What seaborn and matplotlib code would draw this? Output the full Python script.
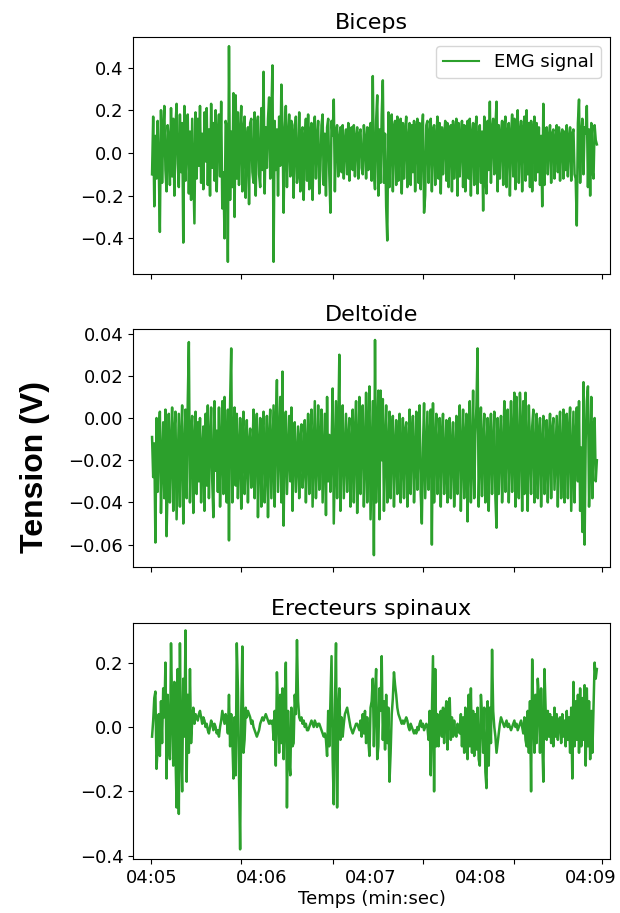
import numpy as np
import pandas as pd
import matplotlib
matplotlib.use("Agg")
import matplotlib.pyplot as plt
from matplotlib.ticker import MultipleLocator, FixedLocator
import seaborn as sns

# ---------------- data ----------------
T_START = 245.0   # 04:05 in seconds
T_END = 249.06    # end of recording

# Biceps, in 0.01 V
biceps_cV = [
    -10, 17, -25, 8, -12, 15, -6, -37, 20, -14, 9, 22, -8, -18, 13, 6, -15, 21, -11, 16,
    -20, 12, 23, -5, -16, 18, -9, 14, -42, 22, -13, 7, 18, -19, 10, -22, 16, -8, -33, 19,
    -12, 16, -6, 22, -14, 9, -17, 19, -4, 21, -15, 11, -20, 23, -7, 14, -13, 20, -18, 8,
    18, -11, 24, -26, -9, -40, 15, 12, -51, 50, -22, 10, -16, 28, -30, 27, -12, 19, -15, 8,
    22, -18, 11, 17, -21, 6, 12, -24, 14, 16, -9, -14, 19, -20, 13, 17, -10, -16, 21, -8,
    38, -19, 12, -7, 16, 26, -12, 18, 41, -51, 15, -8, 11, -20, 17, -6, 32, 12, -28, 9,
    22, -16, 7, 18, -11, 15, 13, -21, 8, 17, -14, -9, 19, -18, 10, 12, -22, 6, 16, -13,
    18, -17, 9, 14, -22, 11, 17, -12, 7, 15, -19, -8, 13, 18, -15, 9, -20, 12, 16, -10,
    -28, 15, 8, 25, -18, 10, 13, -11, 6, 12, -9, 13, -12, 5, 11, -10, 14, -13, 8, 12,
    -8, 13, -11, 7, 12, -12, 9, 11, -7, -10, 13, 6, -12, 12, -8, 10, 14, -13, 36, -9,
    -17, 15, 27, -20, 11, -14, 18, 34, -14, 9, -25, -41, 19, -16, 8, 18, -18, 12, 15, -15,
    17, -13, 7, 16, -19, 14, -12, 10, 17, -16, 6, 14, -15, 13, -9, 15, -18, 11, 16, -14,
    14, -17, 9, 18, -28, -20, 13, 15, -14, 8, 16, -18, 11, 13, -15, 7, 17, -12, 14, -19,
    12, -10, 8, 15, -13, 14, -16, 9, 13, -18, 15, -12, 10, 16, -20, 14, -11, 7, 15, -16,
    13, -18, 10, 15, -12, 16, -20, 9, 14, -15, 11, 17, -19, 8, 13, -14, 10, -27, 17, -12,
    -19, 15, -8, 24, -14, 11, 16, -10, 12, 24, -18, 13, -12, 9, 15, -15, 12, 17, -16, 10,
    14, -20, 8, 18, -11, 16, -17, 12, 20, -14, 9, 15, -18, 11, 17, -13, 20, -10, 14, -16,
    15, -18, 9, 17, -13, 14, -9, 12, -15, 8, -25, 23, -15, 10, 12, -10, 7, 13, -14, 9,
    11, -12, 6, 13, -9, 12, -13, 8, 11, -12, 10, -8, 13, -11, 7, 12, -13, 9, 11, -10,
    -12, -34, 14, 25, -14, 8, 16, -10, 12, 9, 22, -16, 11, -20, 14, -8, -12, 13, 6, 4,
]

# Deltoide, in 0.001 V
deltoide_mV = [
    -9, -28, -12, -59, 0, -35, -8, 3, -45, -20, -2, -38, 4, -56, -30, 2, -40, -14, 5, -44,
    -6, 3, -48, -22, 2, -42, -10, 6, -50, -18, 4, -38, 7, 36, -40, -8, 1, -45, -12, 3,
    -36, -2, -30, 0, -40, -15, -4, -44, 2, -32, 6, -38, -12, 5, -30, -47, 8, -25, -6, -35,
    5, -42, -14, 8, -36, 10, -22, -40, 4, -58, 7, 33, -40, -10, 5, -32, 2, -38, -16, 0,
    -43, -8, 3, -36, -20, -1, -40, -12, -5, -33, -18, 4, -38, -9, 2, -47, -14, 0, -42, -6,
    3, -40, -22, 1, -47, -10, 4, -38, -16, 6, -42, -4, 18, -35, -12, 10, -40, 22, -51, -8,
    3, -36, -18, 1, -30, 5, -44, -12, -2, -35, -20, -4, -38, -10, -3, -33, -22, -1, -40, -14,
    2, -36, -8, 4, -42, -16, 8, -38, -20, 6, -34, -12, 4, -40, -18, 2, -46, 10, -30, -8,
    -35, -14, 14, -50, -20, 8, -38, -6, 30, -44, -12, 6, -38, -18, 2, -35, -10, 0, -42, -16,
    4, -40, -8, 8, -45, -14, 10, -36, -4, 6, -42, -18, 12, -40, -6, 15, -48, -20, 8, -65,
    37, -40, -10, 13, -48, 13, -20, 9, -44, -12, 6, -40, -16, 3, -38, -8, 1, -42, -14, -1,
    -36, -10, 2, -40, -18, 0, -38, -6, -2, -42, -15, 4, -36, -8, 1, -40, -20, 3, -34, -12,
    6, -36, -50, -14, 7, -38, -18, 3, -34, -10, 4, -60, 7, -40, -12, 2, -36, -16, 0, -42,
    -8, 2, -36, -20, -1, -40, -10, 0, -38, -14, -2, -42, -18, 1, -36, -6, 6, -44, -16, 4,
    -38, -10, 2, -49, -14, 8, -40, -20, 13, -38, -8, 6, 33, -42, -16, 5, -37, -12, 2, -40,
    -18, 0, -44, -10, 2, -36, -14, 3, -38, -52, 0, -36, -12, 1, -40, -18, 8, -35, -6, 4,
    -40, -14, 8, -35, -10, 12, -42, 10, -20, -38, 12, -6, -44, 8, -36, 12, -18, -44, 6, -12,
    -36, -4, 4, -40, -16, 2, -38, -8, 0, -42, -14, 1, -36, -20, -1, -40, -10, 2, -38, -6,
    0, -34, -16, 1, -42, -8, 3, -38, -18, 4, -40, -12, 2, -38, -6, 5, -44, -20, 3, -40,
    -10, 5, -30, 8, -44, -14, -54, 17, -60, -10, 8, 15, -42, -20, 10, -38, -4, 0, -30, -20,
]

# Erecteurs spinaux, in 0.01 V
erecteurs_cV = [
    -3, 2, 9, 11, -13, -6, 4, -9, 8, -5, 12, 3, 20, -16, 10, -4, -10, 26, 6, -12,
    14, -8, -25, 18, -27, 26, -6, -20, 15, -3, 30, -17, 10, -8, 18, -5, 2, 6, 1, 4,
    3, 2, 4, 5, 3, 1, 3, 2, 0, 1, -1, -2, 0, 2, 1, -1, 1, 0, -2, -1,
    -3, 0, 2, 5, 3, 1, 4, 2, -2, 10, -6, 4, -4, -16, 3, -15, 26, 12, -15, -38,
    5, 25, -8, -4, 6, 3, 5, 4, 3, 1, 2, 0, -1, -2, -3, -2, -1, 1, 2, 3,
    2, 3, 4, 3, 2, 1, 2, 1, 2, -4, 5, -12, 17, 6, -8, 10, -5, 12, -10, 8,
    20, -25, 5, -10, -15, 6, -6, -5, 10, 4, 27, 8, 3, 2, 3, 1, 2, 0, 1, -1,
    -1, 0, 1, 2, 1, 0, 2, 1, 0, 1, 1, 0, -1, -2, -3, -2, -4, -9, 5, -6,
    8, 22, -10, -24, 6, 26, -25, 4, 12, -4, 3, -3, 1, 4, 5, 6, 4, 2, 0, -1,
    -2, -1, 0, 1, 1, 0, -1, 2, -3, 4, -2, 5, -5, 3, -4, -9, 6, 8, 15, -6,
    10, 18, -10, -6, 12, 5, 22, -4, 8, -7, 10, -5, 6, -17, -8, 4, 9, 17, 13, 10,
    6, 4, 3, 2, 1, 2, 1, 2, 3, 2, 0, -1, 1, 0, -1, -2, -1, -2, 0, -1,
    1, 2, 0, 1, -1, 0, 1, 0, -4, 5, -15, 3, 22, -20, 18, -6, 4, -6, 3, 5,
    -3, 6, -5, 4, 8, -7, 5, 9, -4, 3, -3, 2, -2, -3, 1, 0, -2, 4, -6, 3,
    -8, 6, -5, -10, 10, -6, 12, -8, 5, -9, 4, -7, 6, -10, -12, 10, 4, -8, 6, -14,
    -19, 8, -12, 6, -5, 24, 5, 0, -3, -8, -5, -2, 1, 3, 2, 1, 0, 1, 2, 0,
    1, 0, -1, 0, 1, 2, 0, 1, -1, 0, 1, 2, 0, -2, 3, -4, -6, 5, -8, 8,
    -20, 21, 4, -8, 10, -5, 15, 9, -8, 12, -4, -17, 18, 6, -4, 5, -3, 4, -5, 3,
    -6, 6, -3, 4, -4, 2, 3, -5, 4, -3, 2, -6, 5, -4, 3, -8, 6, -16, 14, -6,
    8, -4, 10, -8, 12, -6, 9, -4, 13, -12, 12, -6, 8, -10, 5, -8, 6, 20, 15, 18,
]

titles = ["Biceps", "Deltoïde", "Erecteurs spinaux"]
x_tick_labels = ["04:05", "04:06", "04:07", "04:08", "04:09"]
x_label_pos = [245, 246, 247, 248, 249]

# ---------------- layout ----------------
W, H = 620, 913
fig = plt.figure(figsize=(W / 100, H / 100), dpi=100)

def ax_rect(top_px, bottom_px, left_px=133, right_px=610):
    return [left_px / W, 1 - bottom_px / H, (right_px - left_px) / W, (bottom_px - top_px) / H]

rects = [ax_rect(37, 274), ax_rect(329, 567), ax_rect(623, 859)]
ylims = [(-0.567, 0.543), (-0.0706, 0.0422), (-0.41, 0.323)]
ysteps = [0.2, 0.02, 0.2]
series = [np.array(biceps_cV) / 100.0, np.array(deltoide_mV) / 1000.0, np.array(erecteurs_cV) / 100.0]
tick_marks = [244.99, 245.81, 246.65, 247.47, 248.30, 249.11]

GREEN = "#2ca02c"

for k, (rect, yl, ys, vals, title) in enumerate(zip(rects, ylims, ysteps, series, titles)):
    ax = fig.add_axes(rect)
    t = np.linspace(T_START, T_END, len(vals))
    df = pd.DataFrame({"t": t, "v": vals})
    sns.lineplot(data=df, x="t", y="v", ax=ax, color=GREEN, linewidth=1.8,
                 estimator=None, sort=False, label="EMG signal" if k == 0 else None,
                 legend=(k == 0))
    ax.set_xlim(244.826, 249.18)
    ax.set_ylim(*yl)
    ax.yaxis.set_major_locator(MultipleLocator(ys))
    ax.tick_params(axis="y", labelsize=13, length=3.5)
    ax.set_title(title, fontsize=16, pad=6)
    ax.set_ylabel("")
    ax.set_xlabel("")
    # label positions (no marks) + tick marks (no labels)
    ax.xaxis.set_major_locator(FixedLocator(x_label_pos))
    ax.xaxis.set_minor_locator(FixedLocator(tick_marks))
    ax.tick_params(axis="x", which="major", length=0, pad=7, labelsize=13)
    ax.tick_params(axis="x", which="minor", length=3.5, width=0.8)
    if k == 2:
        ax.set_xticklabels(x_tick_labels)
        ax.set_xlabel("Temps (min:sec)", fontsize=13, labelpad=2)
    else:
        ax.set_xticklabels([])
    if k == 0:
        leg = ax.legend(loc="upper right", fontsize=13, handlelength=2.0)
        for h in leg.get_lines():
            h.set_linewidth(1.5)

fig.text(35 / W, 1 - 467 / H, "Tension (V)", rotation=90, ha="center", va="center",
         fontsize=23, fontweight="bold", family=["Liberation Sans", "DejaVu Sans"])

fig.savefig("out.png", dpi=100)
